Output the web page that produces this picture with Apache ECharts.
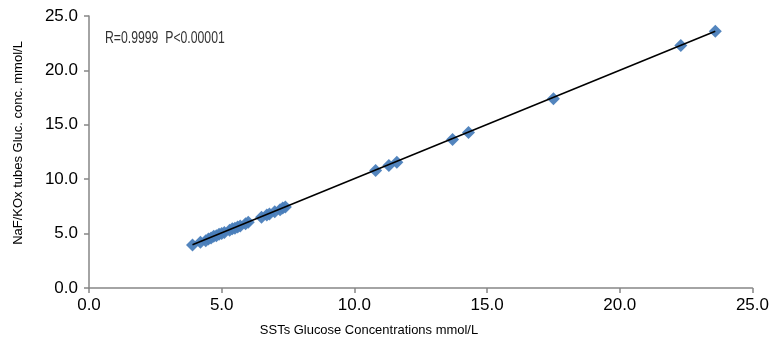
<!DOCTYPE html>
<html><head><meta charset="utf-8">
<script src="https://cdn.jsdelivr.net/npm/echarts@6/dist/echarts.min.js"></script>
<style>html,body{margin:0;padding:0;background:#fff}#c{width:772px;height:348px}</style>
</head><body><div id="c"></div>
<script>
var sstX = [3.9, 4.2, 4.4, 4.5, 4.6, 4.7, 4.8, 4.9, 5.0, 5.1, 5.3, 5.4, 5.5, 5.6, 5.7, 5.9, 6.0, 6.5, 6.7, 6.8, 7.0, 7.2, 7.3, 7.4, 10.8, 11.3, 11.6, 13.7, 14.3, 17.5, 22.3, 23.6];
var nafY = [3.95, 4.2, 4.35, 4.5, 4.6, 4.75, 4.8, 4.95, 5.0, 5.1, 5.3, 5.45, 5.5, 5.6, 5.7, 5.9, 6.05, 6.5, 6.7, 6.8, 7.0, 7.2, 7.35, 7.45, 10.8, 11.25, 11.55, 13.65, 14.3, 17.4, 22.3, 23.6];
var fitX = [3.9, 23.6];
var fitY = [3.97, 23.6];
var axisTicks = [0, 5, 10, 15, 20, 25];
var xTitle = 'SSTs Glucose Concentrations mmol/L';
var yTitle = 'NaF/KOx tubes Gluc. conc. mmol/L';
var statText = 'R=0.9999  P<0.00001';

var pts = sstX.map(function(x, i){ return [x, nafY[i]]; });
var fit = fitX.map(function(x, i){ return [x, fitY[i]]; });
var chart = echarts.init(document.getElementById('c'));
var axisCommon = {
  min: axisTicks[0], max: axisTicks[axisTicks.length-1], interval: 5,
  axisLine: {onZero: false, lineStyle: {color: '#868686', width: 1.5}},
  axisTick: {show: true, inside: false, length: 5, lineStyle: {color: '#868686', width: 1.5}},
  splitLine: {show: false},
  axisLabel: {color: '#000', fontFamily: 'Liberation Sans', fontSize: 17, formatter: function(v){ return v.toFixed(1); }}
};
chart.setOption({
  animation: false,
  grid: {left: 89, right: 17, top: 16, bottom: 60, containLabel: false},
  xAxis: Object.assign({}, axisCommon, {type: 'value', axisLabel: Object.assign({}, axisCommon.axisLabel, {margin: 9})}),
  yAxis: Object.assign({}, axisCommon, {type: 'value', axisLabel: Object.assign({}, axisCommon.axisLabel, {margin: 11})}),
  graphic: [
    {type: 'text', x: 105, y: 30, scaleX: 0.72, style: {text: statText, fontFamily: 'Liberation Sans', fontSize: 17, fill: '#333'}},
    {type: 'text', x: 369, y: 330, scaleX: 0.96, style: {text: xTitle, fontFamily: 'Liberation Sans', fontSize: 13.5, fill: '#000', align: 'center', verticalAlign: 'middle'}},
    {type: 'text', x: 18, y: 143, rotation: Math.PI/2, style: {text: yTitle, fontFamily: 'Liberation Sans', fontSize: 13, fill: '#000', align: 'center', verticalAlign: 'middle'}}
  ],
  series: [
    {type: 'scatter', data: pts, symbol: 'diamond', symbolSize: 13, itemStyle: {color: '#4a7ebb', opacity: 0.95}, z: 2},
    {type: 'line', data: fit, symbol: 'none', lineStyle: {color: '#000', width: 1.5}, z: 3}
  ]
});
</script></body></html>
